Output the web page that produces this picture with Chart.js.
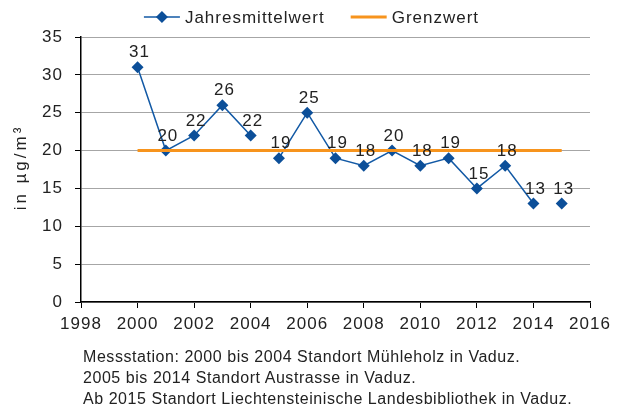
<!DOCTYPE html>
<html>
<head>
<meta charset="utf-8">
<script src="https://cdn.jsdelivr.net/npm/chart.js@4.4.0/dist/chart.umd.min.js"></script>
<style>
  body { margin: 0; background: #fff; }
  #wrap { position: relative; width: 623px; height: 410px; }
  #note {
    position: absolute; left: 83px; top: 346px;
    font: 16px 'Liberation Sans', Arial, sans-serif;
    line-height: 21px; color: #222; letter-spacing: 0.55px;
    white-space: nowrap;
  }
</style>
</head>
<body>
<div id="wrap">
  <canvas id="myChart" width="623" height="410"></canvas>
  <div id="note">
    Messstation: 2000 bis 2004 Standort Mühleholz in Vaduz.<br>
    2005 bis 2014 Standort Austrasse in Vaduz.<br>
    Ab 2015 Standort Liechtensteinische Landesbibliothek in Vaduz.
  </div>
</div>
<script>
'use strict';

let years = [2000, 2001, 2002, 2003, 2004, 2005, 2006, 2007, 2008, 2009, 2010, 2011, 2012, 2013, 2014, 2015];
let jahresmittelwert = [31, 20, 22, 26, 22, 19, 25, 19, 18, 20, 18, 19, 15, 18, 13, 13];
let grenzwertYears = [2000, 2015];
let grenzwert = [20, 20];
// Standortwechsel: nach diesen Jahren keine Verbindungslinie
let gapAfter = [2004, 2014];
let seriesNames = ['Jahresmittelwert', 'Grenzwert'];
let yTitle = 'in µg/m³';
let xMin = 1998, xMax = 2016, xStep = 2;
let yMin = 0, yMax = 35, yStep = 5;

let blue = '#1259a5';
let blueDark = '#0c4f99';
let orange = '#f7941d';
let textColor = '#222';
let font = "'Liberation Sans', Arial, sans-serif";

let meanPoints = years.map((y, i) => ({ x: y, y: jahresmittelwert[i] }));
let limitPoints = grenzwertYears.map((y, i) => ({ x: y, y: grenzwert[i] }));

function diamond(ctx, x, y, r) {
  ctx.beginPath();
  ctx.moveTo(x - r, y);
  ctx.lineTo(x, y - r);
  ctx.lineTo(x + r, y);
  ctx.lineTo(x, y + r);
  ctx.closePath();
  ctx.fill();
}

// etwas breiterer Schriftlauf wie im Original
let spacing = {
  id: 'spacing',
  beforeDraw(chart) {
    chart.ctx.letterSpacing = '1px';
  }
};

// Werte über den Punkten
let valueLabels = {
  id: 'valueLabels',
  afterDatasetsDraw(chart) {
    let ctx = chart.ctx;
    let meta = chart.getDatasetMeta(0);
    ctx.save();
    ctx.font = '17px ' + font;
    ctx.fillStyle = textColor;
    ctx.textAlign = 'center';
    ctx.textBaseline = 'bottom';
    meta.data.forEach((pt, i) => {
      ctx.fillText(String(jahresmittelwert[i]), pt.x + 2, pt.y - 6);
    });
    ctx.restore();
  }
};

// Legende oben und Achsentitel
let legendAndTitle = {
  id: 'legendAndTitle',
  afterDraw(chart) {
    let ctx = chart.ctx;
    ctx.save();
    ctx.letterSpacing = '1px';
    ctx.font = '17px ' + font;
    ctx.textBaseline = 'middle';
    let sym = 36, gap = 5, itemGap = 26;
    let w1 = ctx.measureText(seriesNames[0]).width;
    let w2 = ctx.measureText(seriesNames[1]).width;
    let total = sym + gap + w1 + itemGap + sym + gap + w2;
    let x = chart.width / 2 - total / 2;
    let y = 17;

    ctx.strokeStyle = blue;
    ctx.lineWidth = 1.5;
    ctx.beginPath();
    ctx.moveTo(x, y);
    ctx.lineTo(x + sym, y);
    ctx.stroke();
    ctx.fillStyle = blueDark;
    diamond(ctx, x + sym / 2, y, 6);
    ctx.fillStyle = textColor;
    ctx.fillText(seriesNames[0], x + sym + gap, y + 1);

    x += sym + gap + w1 + itemGap;
    ctx.strokeStyle = orange;
    ctx.lineWidth = 3;
    ctx.beginPath();
    ctx.moveTo(x, y);
    ctx.lineTo(x + sym, y);
    ctx.stroke();
    ctx.fillText(seriesNames[1], x + sym + gap, y + 1);

    let area = chart.chartArea;
    ctx.translate(21, (area.top + area.bottom) / 2 - 2);
    ctx.rotate(-Math.PI / 2);
    ctx.font = '17px ' + font;
    ctx.letterSpacing = '3px';
    ctx.textAlign = 'center';
    ctx.fillText(yTitle, 0, 0);
    ctx.restore();
  }
};

let ctx = document.getElementById('myChart').getContext('2d');
new Chart(ctx, {
  type: 'line',
  data: {
    datasets: [{
      label: seriesNames[0],
      data: meanPoints,
      borderColor: blue,
      borderWidth: 1.5,
      pointStyle: 'rectRot',
      pointRadius: 6,
      pointBackgroundColor: blueDark,
      pointBorderColor: blueDark,
      pointBorderWidth: 0,
      tension: 0,
      order: 1,
      segment: {
        borderColor: c => gapAfter.includes(c.p0.parsed.x) ? 'transparent' : blue
      }
    }, {
      label: seriesNames[1],
      data: limitPoints,
      borderColor: orange,
      borderWidth: 3,
      pointRadius: 0,
      tension: 0,
      order: 0
    }]
  },
  options: {
    responsive: false,
    animation: false,
    layout: { padding: { top: 37, right: 33, left: 0, bottom: 0 } },
    plugins: {
      legend: { display: false },
      tooltip: { enabled: false }
    },
    scales: {
      x: {
        type: 'linear',
        min: xMin,
        max: xMax,
        ticks: {
          stepSize: xStep,
          color: textColor,
          font: { family: font, size: 17 },
          padding: 6,
          maxRotation: 0,
          callback: v => String(v)
        },
        grid: { drawOnChartArea: false, tickColor: '#000', tickLength: 6 },
        border: { color: '#000', width: 1.5 },
        afterFit: s => { s.height = 108; }
      },
      y: {
        min: yMin,
        max: yMax,
        ticks: {
          stepSize: yStep,
          color: textColor,
          font: { family: font, size: 17 },
          padding: 12
        },
        grid: { color: '#a6a6a6', tickColor: '#000', tickLength: 6 },
        border: { color: '#000', width: 1.5 },
        afterFit: s => { s.width = 81; }
      }
    }
  },
  plugins: [spacing, valueLabels, legendAndTitle]
});
</script>
</body>
</html>
